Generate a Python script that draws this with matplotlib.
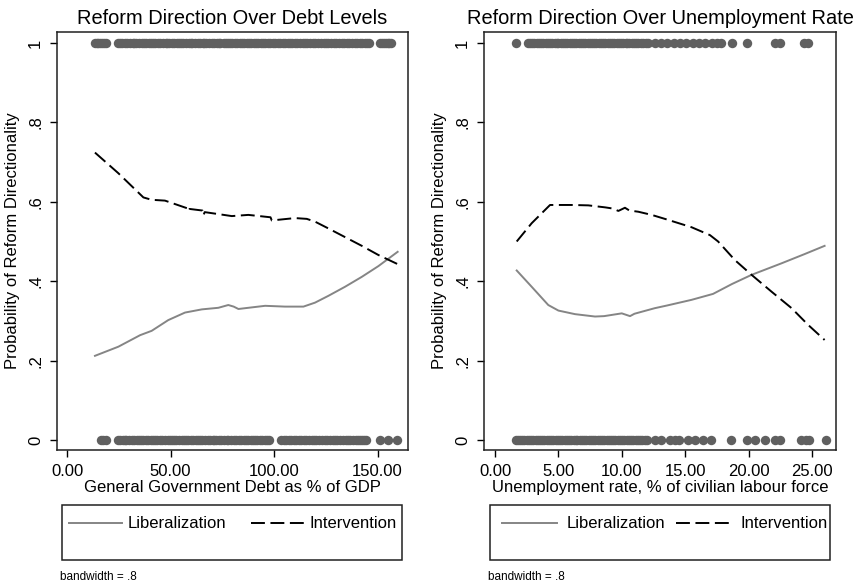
import matplotlib
matplotlib.use('Agg')
import matplotlib.pyplot as plt
from matplotlib.lines import Line2D
from matplotlib.patches import Rectangle

plt.rcParams['font.family'] = ['Liberation Sans', 'DejaVu Sans']
plt.rcParams['lines.scale_dashes'] = False

# lowess fits, debt panel
debt_lib_x = [13.5, 24.8, 35.3, 40.9, 48.9, 57.0, 65.1, 73.1, 77.9, 80.5, 82.8, 87.6,
              95.7, 105.3, 114.2, 119.8, 126.2, 134.3, 142.4, 150.4, 159.7]
debt_lib_y = [0.212, 0.235, 0.264, 0.275, 0.302, 0.321, 0.329, 0.333, 0.340, 0.336, 0.330,
              0.333, 0.338, 0.336, 0.336, 0.346, 0.363, 0.386, 0.411, 0.438, 0.474]
debt_int_x = [13.5, 24.8, 36.9, 40.9, 47.3, 57.9, 58.6, 59.2, 65.4, 65.9, 66.5, 73.1,
              79.6, 87.6, 98.3, 98.9, 110.1, 115.8, 119.8, 126.2, 134.3, 142.4, 150.4, 159.7]
debt_int_y = [0.724, 0.672, 0.611, 0.605, 0.603, 0.584, 0.576, 0.582, 0.578, 0.566, 0.574, 0.569,
              0.564, 0.567, 0.561, 0.553, 0.559, 0.557, 0.550, 0.533, 0.511, 0.489, 0.466, 0.443]

# observed outcomes, debt panel
debt_obs1 = [13.3, 14.4, 15.2, 16.1, 17.0, 17.9, 18.6,
             24.6, 25.5, 26.8, 27.9, 29.1, 30.2, 31.9, 32.6, 33.4, 34.8, 36.2, 37.1, 38.0,
             39.4, 40.7, 41.6, 42.5, 43.9, 45.1, 46.2, 47.6, 48.3, 49.2, 50.6, 51.8, 53.0,
             54.3, 55.2, 56.0, 57.5, 58.9, 59.7, 60.4, 61.8, 63.1, 64.2, 65.5, 66.3, 67.2,
             68.4, 69.8, 71.0, 72.4, 73.2, 74.1, 75.6, 76.9, 77.7, 78.5, 79.8, 81.2, 82.3,
             83.6, 84.4, 85.3, 86.7, 88.0, 89.1, 90.4, 91.3, 92.2, 93.6, 94.9, 95.8, 97.1,
             98.2, 99.6, 100.5, 101.8, 103.0, 104.3, 105.4, 106.9, 107.6, 108.5, 109.9,
             111.2, 112.4, 113.8, 114.9, 116.1, 117.3, 118.7, 119.8, 121.0, 122.5, 123.9,
             125.0, 126.3, 127.4, 128.8, 130.1, 131.5, 132.6, 133.9, 135.0, 136.2, 137.5,
             138.9, 140.1, 141.4, 142.6, 143.7, 144.9, 145.8,
             151.0, 152.0, 153.1, 154.0, 154.9, 155.7, 156.3]
debt_obs0 = [16.5, 17.4, 18.6,
             24.5, 25.6, 26.9, 27.8, 28.7, 30.0, 31.2, 32.5, 33.8, 34.6, 35.5, 36.9, 38.1,
             39.3, 40.6, 41.4, 42.3, 43.7, 45.0, 46.1, 47.4, 48.6, 49.9, 50.7, 51.5, 52.8,
             54.2, 55.4, 56.7, 57.5, 58.4, 59.8, 61.0, 62.2, 63.5, 64.3, 65.2, 66.6, 67.9,
             69.0, 70.3, 71.1, 72.0, 73.4, 74.6, 75.9, 77.2, 78.0, 79.1, 80.5, 81.8, 82.9,
             84.0, 85.3, 86.5, 87.6, 88.9, 89.8, 90.7, 92.0, 93.3, 94.4, 95.6, 96.5, 97.5,
             103.4, 104.6, 105.9, 107.0, 108.1, 109.5, 110.8, 112.0, 113.2, 114.3, 115.6,
             116.9, 118.3, 119.4, 120.5, 121.8, 123.1, 124.4, 125.7, 127.0, 128.4, 129.5,
             130.6, 131.9, 133.3, 134.6, 135.9, 136.9, 138.0, 139.4, 140.7, 141.6, 142.5,
             143.4, 144.2,
             151.2, 155.2, 159.6]

# lowess fits, unemployment panel
unemp_lib_x = [1.71, 2.89, 4.2, 5.0, 6.31, 7.89, 8.6, 9.2, 10.0, 10.65, 11.0, 11.57, 12.6,
               13.6, 15.5, 17.2, 18.7, 20.24, 22.6, 24.4, 26.0]
unemp_lib_y = [0.427, 0.386, 0.340, 0.326, 0.317, 0.311, 0.312, 0.315, 0.319, 0.312, 0.318,
               0.323, 0.332, 0.339, 0.353, 0.368, 0.393, 0.416, 0.445, 0.468, 0.489]
unemp_int_x = [1.71, 2.89, 4.34, 6.05, 7.36, 8.68, 9.3, 9.73, 10.25, 10.6, 11.3, 12.36,
               13.5, 15.5, 16.96, 17.6, 18.93, 20.24, 21.8, 23.4, 24.7, 26.0]
unemp_int_y = [0.500, 0.546, 0.592, 0.592, 0.591, 0.586, 0.583, 0.577, 0.585, 0.578, 0.575,
               0.567, 0.556, 0.536, 0.516, 0.500, 0.453, 0.416, 0.374, 0.332, 0.290, 0.252]

# observed outcomes, unemployment panel
unemp_obs1 = [1.63,
              2.6, 2.75, 2.9, 3.1, 3.3, 3.45, 3.6, 3.8, 4.0, 4.15, 4.3, 4.5, 4.7, 4.85, 5.0,
              5.2, 5.4, 5.55, 5.7, 5.9, 6.1, 6.25, 6.4, 6.6, 6.8, 6.95, 7.1, 7.3, 7.5, 7.65,
              7.8, 8.0, 8.2, 8.35, 8.5, 8.7, 8.9, 9.05, 9.2, 9.4, 9.6, 9.75, 9.9, 10.1, 10.3,
              10.45, 10.6, 10.8, 11.0, 11.15, 11.3, 11.5, 11.7, 11.9, 12.1,
              12.6, 13.1, 13.6, 14.1, 14.6, 15.1, 15.6, 16.1, 16.6, 17.1, 17.5, 17.8,
              18.7, 19.85, 22.1, 22.5, 24.4, 24.7]
unemp_obs0 = [1.66, 1.85, 2.0, 2.15, 2.3, 2.5, 2.7, 2.85, 3.0, 3.2, 3.4, 3.55, 3.7, 3.9,
              4.1, 4.25, 4.4, 4.6, 4.8, 4.95, 5.1, 5.3, 5.5, 5.65, 5.8, 6.0, 6.2, 6.35, 6.5,
              6.7, 6.9, 7.05, 7.2, 7.4, 7.6, 7.75, 7.9, 8.1, 8.3, 8.45, 8.6, 8.8, 9.0, 9.15,
              9.3, 9.5, 9.7, 9.85, 10.0, 10.2, 10.4, 10.55, 10.7, 10.9, 11.1, 11.25, 11.4,
              11.6, 11.8, 12.0,
              12.6, 13.1, 13.8, 14.2, 14.5, 15.2, 15.8, 16.4, 17.0,
              18.6, 19.85, 20.5, 21.3, 22.1, 22.5, 24.1, 24.5, 24.8, 26.1]

ytick_vals = [0, 0.2, 0.4, 0.6, 0.8, 1.0]
ytick_labels = ['0', '.2', '.4', '.6', '.8', '1']

LIB_COLOR = '#858585'
DOT_COLOR = '#606060'

fig = plt.figure(figsize=(8.59, 5.83), dpi=100)
fig.set_facecolor('white')


def panel(rect, lib_x, lib_y, int_x, int_y, obs1, obs0, xticks, xlim, title, xlabel):
    ax = fig.add_axes(rect)
    ax.scatter(obs1, [1] * len(obs1), s=46, color=DOT_COLOR, linewidths=0, zorder=2)
    ax.scatter(obs0, [0] * len(obs0), s=46, color=DOT_COLOR, linewidths=0, zorder=2)
    ax.plot(lib_x, lib_y, color=LIB_COLOR, linewidth=1.4, zorder=3)
    ax.plot(int_x, int_y, color='black', linewidth=1.4, dashes=(10, 4), zorder=3)
    ax.set_xlim(*xlim)
    ax.set_ylim(-0.0252, 1.0277)
    ax.set_xticks(xticks)
    ax.set_xticklabels(['{:.2f}'.format(v) for v in xticks], fontsize=12)
    ax.set_yticks(ytick_vals)
    ax.set_yticklabels(ytick_labels, fontsize=12, rotation=90, va='center')
    ax.tick_params(direction='out', length=5, width=1)
    ax.tick_params(axis='x', pad=5)
    ax.tick_params(axis='y', pad=5)
    for s in ax.spines.values():
        s.set_linewidth(1.1)
        s.set_color('#202020')
    ax.set_title(title, fontsize=14.4, pad=6)
    ax.set_xlabel(xlabel, fontsize=12, labelpad=1)
    ax.set_ylabel('Probability of Reform Directionality', fontsize=12, labelpad=6)
    return ax


ax1 = panel([57 / 859, 1 - 450 / 583, 351 / 859, 418 / 583],
            debt_lib_x, debt_lib_y, debt_int_x, debt_int_y, debt_obs1, debt_obs0,
            [0, 50, 100, 150], (-4.83, 164.7),
            'Reform Direction Over Debt Levels', 'General Government Debt as % of GDP')
ax2 = panel([484 / 859, 1 - 450 / 583, 352 / 859, 418 / 583],
            unemp_lib_x, unemp_lib_y, unemp_int_x, unemp_int_y, unemp_obs1, unemp_obs0,
            [0, 5, 10, 15, 20, 25], (-0.87, 26.9),
            'Reform Direction Over Unemployment Rate', 'Unemployment rate, % of civilian labour force')

handles = [Line2D([], [], color=LIB_COLOR, linewidth=1.4),
           Line2D([], [], color='black', linewidth=1.4, dashes=(10, 4))]
names = ['Liberalization', 'Intervention']

# legend boxes below each panel
for box_x, anchor_x, lead, pad, gap in [(62, 69, 3.2, 0.3, 1.5), (490, 502, 3.3, 0.6, 0.6)]:
    fig.add_artist(Rectangle((box_x / 859, 1 - 560 / 583), 340 / 859, 55 / 583,
                             transform=fig.transFigure, fill=False,
                             edgecolor='#202020', linewidth=1.1))
    fig.legend(handles, names, loc='center left', ncol=2, frameon=False,
               bbox_to_anchor=(anchor_x / 859, 1 - 524 / 583), bbox_transform=fig.transFigure,
               fontsize=12, handlelength=lead, handletextpad=pad, columnspacing=gap,
               borderpad=0, borderaxespad=0)
    fig.text((box_x - 2) / 859, 1 - 577 / 583, 'bandwidth = .8', fontsize=8.5, va='center')

fig.savefig('out.png', dpi=100)
